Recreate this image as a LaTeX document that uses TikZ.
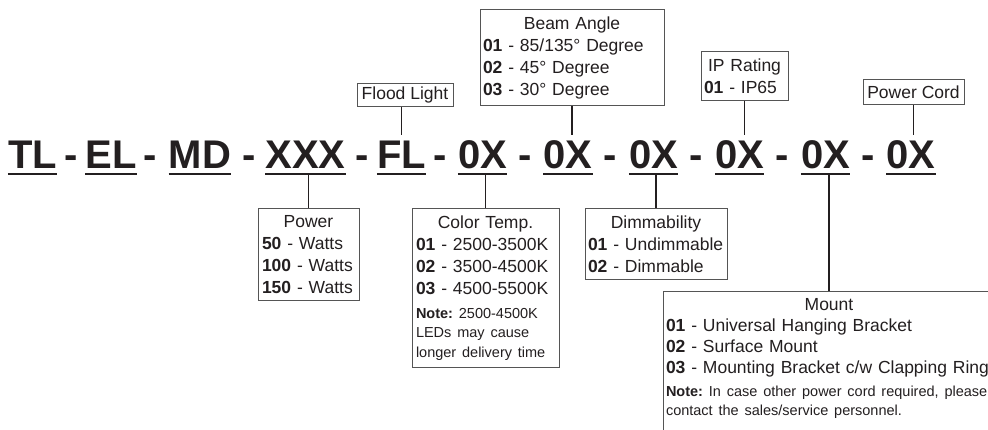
\documentclass[tikz,border=0pt]{standalone}
\usepackage{fontspec}
\setmainfont{Liberation Sans}
\usetikzlibrary{positioning}
\frenchspacing
\definecolor{ink}{HTML}{231F20}
\definecolor{boxline}{HTML}{555555}
\newcommand{\boxtitle}[1]{{\centering #1\par}}
\newcommand{\noteline}[1]{{\fontsize{14.5}{19.5}\selectfont #1}}
\tikzset{
  % part number segments
  segment/.style={
    font=\fontsize{40}{40}\selectfont\bfseries, text=ink, anchor=base,
    inner xsep=0pt, inner ysep=4pt, text height=30pt, text depth=1pt,
  },
  dashsep/.style={
    font=\fontsize{40}{40}\selectfont\bfseries, text=ink, anchor=base, inner sep=0pt,
  },
  underbar/.style={line width=2pt, ink},
  % option boxes
  infobox/.style={
    draw=boxline, line width=0.9pt, fill=white, text=ink,
    font=\fontsize{17.5}{22}\selectfont, inner xsep=3pt, inner ysep=7pt,
    align=left, anchor=north,
  },
  linebox/.style={
    draw=boxline, line width=0.9pt, fill=white, text=ink,
    font=\fontsize{17.5}{22}\selectfont, inner sep=0pt, anchor=north,
  },
  link/.style={line width=1.2pt, ink},
}

\begin{document}
\begin{tikzpicture}[x=1pt, y=-1pt]
  \useasboundingbox (0,0) rectangle (988,430);
  \clip (0,0) rectangle (988,430);

  % Part number
  \node[segment] (tl)  at (32.5,169)  {TL};
  \node[segment] (el)  at (111,169)   {EL};
  \node[segment] (md)  at (200,169)   {MD};
  \node[segment] (xxx) at (305.5,169) {XXX};
  \node[segment] (fl)  at (401.5,169) {FL};
  \node[segment] (ox1) at (482.5,169) {0X};
  \node[segment] (ox2) at (568,169)   {0X};
  \node[segment] (ox3) at (653.5,169) {0X};
  \node[segment] (ox4) at (739.5,169) {0X};
  \node[segment] (ox5) at (825.5,169) {0X};
  \node[segment] (ox6) at (911,169)   {0X};

  \foreach \x [count=\i] in {71.5,150.5,249,362.5,440,525.5,610.5,696.5,782.5,868}
    \node[dashsep] (d\i) at (\x,169) {-};

  \foreach \s in {tl,el,md,xxx,fl,ox1,ox2,ox3,ox4,ox5,ox6}
    \draw[underbar] (\s.south west) -- (\s.south east);

  % Boxes above
  \node[linebox, minimum width=96pt, minimum height=23pt] (flood) at (405,83) {Flood Light};
  \node[infobox, text width=178pt] (beam) at (572,9) {
    \boxtitle{Beam Angle}
    \textbf{01} - 85/135° Degree\\
    \textbf{02} - 45° Degree\\
    \textbf{03} - 30° Degree
  };
  \node[infobox, text width=81pt] (iprate) at (744.5,51) {
    \boxtitle{IP Rating}
    \textbf{01} - IP65\\[7pt]
  };
  \node[linebox, minimum width=101pt, minimum height=25pt] (cord) at (913.5,79) {Power Cord};

  % Boxes below
  \node[infobox, text width=93pt, inner xsep=4pt] (power) at (308.5,208) {
    \boxtitle{Power}
    \textbf{50} - Watts\\
    \textbf{100} - Watts\\
    \textbf{150} - Watts
  };
  \node[infobox, text width=139pt, inner xsep=4pt] (ctemp) at (485.5,208) {
    \boxtitle{Color Temp.}
    \textbf{01} - 2500-3500K\\
    \textbf{02} - 3500-4500K\\
    \textbf{03} - 4500-5500K\\[2pt]
    \noteline{\textbf{Note:} 2500-4500K}\\[-2.5pt]
    \noteline{LEDs may cause}\\[-2.5pt]
    \noteline{longer delivery time}
  };
  \node[infobox, text width=136pt] (dimm) at (656,208) {
    \boxtitle{Dimmability}
    \textbf{01} - Undimmable\\
    \textbf{02} - Dimmable
  };
  \node[infobox, text width=326pt, font=\fontsize{17.5}{21}\selectfont] (mount) at (829,291) {
    \boxtitle{Mount}
    \textbf{01} - Universal Hanging Bracket\\
    \textbf{02} - Surface Mount\\
    \textbf{03} - Mounting Bracket c/w Clapping Ring\\[2pt]
    \noteline{\textbf{Note:} In case other power cord required, please}\\[-1.5pt]
    \noteline{contact the sales/service personnel.}\\[12pt]
    \mbox{}
  };

  % Connectors
  \draw[link] (fl.north) -- (fl.north |- flood.south);
  \draw[link] (beam.south) -- (beam.south |- ox2.north);
  \draw[link] (iprate.south) -- (iprate.south |- ox4.north);
  \draw[link] (cord.south) -- (cord.south |- ox6.north);
  \draw[link] (power.north) -- (power.north |- xxx.south);
  \draw[link] (ctemp.north) -- (ctemp.north |- ox1.south);
  \draw[link] (dimm.north) -- (dimm.north |- ox3.south);
  \draw[link] (mount.north) -- (mount.north |- ox5.south);
\end{tikzpicture}
\end{document}
